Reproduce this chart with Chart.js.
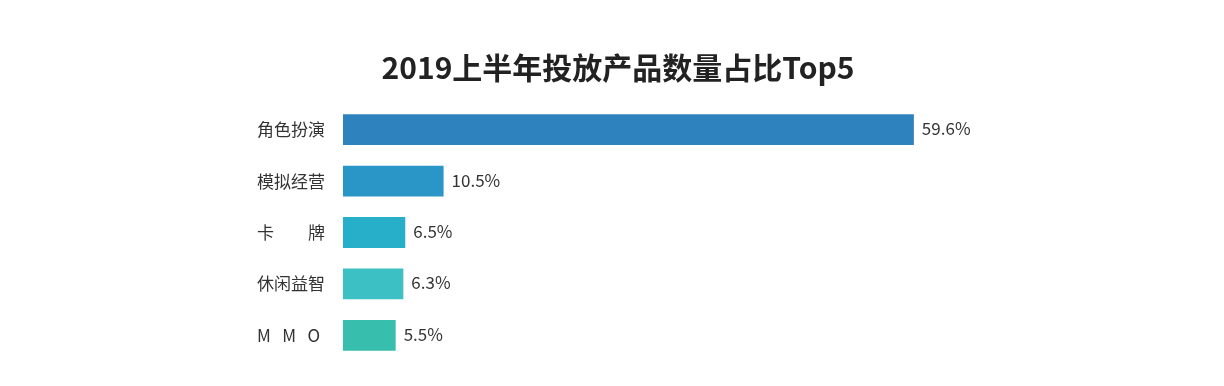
<!DOCTYPE html>
<html>
<head>
<meta charset="utf-8">
<script src="https://cdn.jsdelivr.net/npm/chart.js@4/dist/chart.umd.min.js"></script>
<style>
  body { margin: 0; background: #fff; }
  #wrap { width: 1224px; height: 386px; }
</style>
</head>
<body>
<div id="wrap"><canvas id="chart"></canvas></div>
<script>
// data
const categories = ["角色扮演", "模拟经营", "卡　　牌", "休闲益智", "M   M   O"];
const shares = [59.6, 10.5, 6.5, 6.3, 5.5];
const barColors = ["#2e83be", "#2a96c8", "#27afc9", "#3dc0c4", "#37beac"];

const fontFamily = "'Noto Sans CJK SC', 'Noto Sans', sans-serif";

// labels at the end of each bar
const valueLabels = {
  id: "valueLabels",
  afterDatasetsDraw(chart) {
    const ctx = chart.ctx;
    const meta = chart.getDatasetMeta(0);
    ctx.save();
    ctx.font = "17px " + fontFamily;
    ctx.fillStyle = "#333";
    ctx.textAlign = "left";
    ctx.textBaseline = "middle";
    meta.data.forEach((bar, i) => {
      ctx.fillText(shares[i].toFixed(1) + "%", bar.x + 8, bar.y - 1);
    });
    ctx.restore();
  },
};

new Chart(document.getElementById("chart"), {
  type: "bar",
  data: {
    labels: categories,
    datasets: [
      {
        data: shares,
        backgroundColor: barColors,
        borderWidth: 0,
        barPercentage: 0.6,
        categoryPercentage: 1,
      },
    ],
  },
  options: {
    indexAxis: "y",
    responsive: true,
    maintainAspectRatio: false,
    animation: false,
    layout: {
      padding: { left: 257, right: 245, top: 0, bottom: 25 },
    },
    scales: {
      x: {
        display: false,
        min: 0,
        max: 66.4,
      },
      y: {
        grid: { display: false },
        border: { display: false },
        afterFit: (scale) => {
          scale.width = 86;
        },
        ticks: {
          crossAlign: "far",
          color: "#333",
          font: { family: fontFamily, size: 17 },
        },
      },
    },
    plugins: {
      legend: { display: false },
      tooltip: { enabled: false },
      title: {
        display: true,
        text: "2019上半年投放产品数量占比Top5",
        color: "#222",
        font: { family: fontFamily, size: 30, weight: "bold", lineHeight: 1.2 },
        padding: { top: 50, bottom: 18 },
      },
    },
  },
  plugins: [valueLabels],
});
</script>
</body>
</html>
